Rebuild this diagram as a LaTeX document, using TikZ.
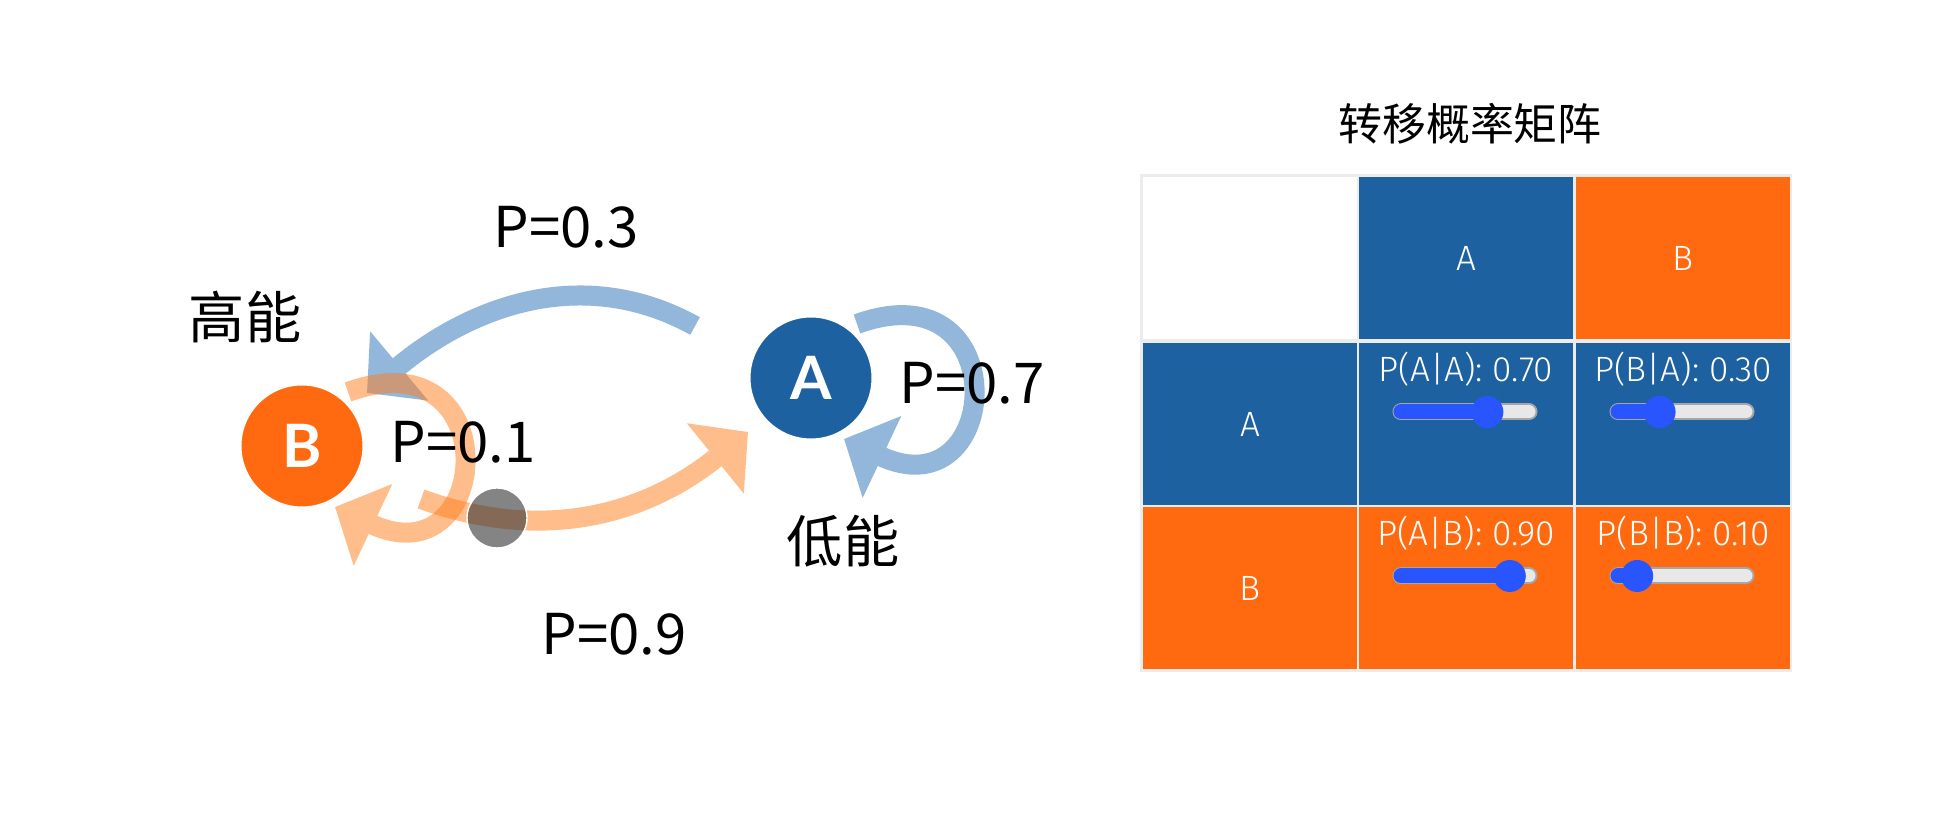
\documentclass[tikz,border=0pt]{standalone}
\usepackage{fontspec}
\setmainfont{Noto Sans CJK SC}
\newfontfamily\cellfont{Fira Sans Light}
\newfontfamily\statefont{Lato}
\usepackage{tikz}
\usetikzlibrary{calc,arrows.meta,positioning}
\definecolor{stateblue}{RGB}{29,97,160}
\definecolor{stateorange}{RGB}{255,106,16}
\definecolor{arrowblue}{RGB}{40,110,185}
\definecolor{arroworange}{RGB}{255,125,25}
\definecolor{knobblue}{RGB}{40,85,255}
\definecolor{gridgray}{RGB}{236,236,236}
\definecolor{trackgray}{RGB}{232,232,232}
\tikzset{
  state/.style={circle,minimum size=1.23cm,inner sep=0pt,draw=white,line width=0.6pt,
    text=white,font=\statefont\bfseries\fontsize{17}{17}\selectfont},
  flow/.style={line width=0.2cm,-{Triangle[width=0.88cm,length=0.42cm]}},
  lbl/.style={inner sep=0pt,font=\fontsize{16}{16}\selectfont},
  cell/.style={minimum width=2.13cm,minimum height=1.61cm,inner sep=0pt,
    text=white,font=\cellfont\fontsize{10}{10}\selectfont},
  ctext/.style={inner sep=0pt,text=white,font=\cellfont\fontsize{10}{10}\selectfont},
}
% slider drawn inside a probability cell: #1 cell, #2 value
\newcommand{\slider}[2]{%
  \draw[line width=0.17cm,line cap=round,black!35] ($(#1)+(-65,12)$) -- ($(#1)+(63,12)$);
  \draw[line width=0.13cm,line cap=round,trackgray] ($(#1)+(-65,12)$) -- ($(#1)+(63,12)$);
  \draw[line width=0.15cm,line cap=round,knobblue] ($(#1)+(-65,12)$) -- ($(#1)+({-57+112*#2},12)$);
  \fill[knobblue] ($(#1)+({-57+112*#2},12)$) circle [radius=16];}

\begin{document}
\begin{tikzpicture}[x=0.01cm,y=0.01cm]
  \useasboundingbox (0,0) rectangle (1948,822);
  \fill[white] (0,0) rectangle (1948,822);
  \coordinate (cB) at (302,376);
  \coordinate (cA) at (811,444);
  % transitions
  \begin{scope}[transparency group,opacity=0.5]
    \draw[flow,arrowblue] ($(cA)+(-116,52)$) to[out=151,in=40] ($(cB)+(65,53)$);
  \end{scope}
  \begin{scope}[transparency group,opacity=0.5]
    \draw[flow,arroworange] ($(cB)+(46,54)$) .. controls ($(cB)+(206,112)$) and ($(cB)+(192,-136)$) .. ($(cB)+(33,-61)$);
  \end{scope}
  \begin{scope}[transparency group,opacity=0.5]
    \draw[flow,arroworange] ($(cB)+(119,-53)$) to[out=-20,in=219] ($(cA)+(-63,-54)$);
  \end{scope}
  \begin{scope}[transparency group,opacity=0.5]
    \draw[flow,arrowblue] ($(cA)+(46,54)$) .. controls ($(cA)+(206,112)$) and ($(cA)+(192,-136)$) .. ($(cA)+(33,-61)$);
  \end{scope}
  \filldraw[fill=black!80,draw=white,fill opacity=0.6,line width=0.4pt] (497,304) circle [radius=30];
  % states
  \node[state,fill=stateorange] (B) at (cB) {B};
  \node[state,fill=stateblue] (A) at (cA) {A};
  \node[lbl] (p03) at (566,595) {P=0.3};
  \node[lbl] (p01) at (463,380) {P=0.1};
  \node[lbl] (p07) at (972,439) {P=0.7};
  \node[lbl] (p09) at (614,188) {P=0.9};
  \node[lbl] (hi) at (245,505) {高能};
  \node[lbl] (lo) at (843,281) {低能};
  % transition matrix
  \node[inner sep=0pt,font=\fontsize{12.5}{12.5}\selectfont] (title) at (1470,698) {转移概率矩阵};
  \fill[gridgray] (1140,150) rectangle (1792,648);
  \node[cell,fill=white] (corner) at (1250,564) {};
  \node[cell,fill=stateblue] (hA) at (1466,564) {A};
  \node[cell,fill=stateorange] (hB) at (1683,564) {B};
  \node[cell,fill=stateblue] (rA) at (1250,398) {A};
  \node[cell,fill=stateblue] (pAA) at (1466,398) {};
  \node[cell,fill=stateblue] (pBA) at (1683,398) {};
  \node[cell,fill=stateorange] (rB) at (1250,234) {B};
  \node[cell,fill=stateorange] (pAB) at (1466,234) {};
  \node[cell,fill=stateorange] (pBB) at (1683,234) {};
  \node[ctext] (tAA) at ($(pAA)+(0,55)$) {P(A|A): 0.70};
  \node[ctext] (tBA) at ($(pBA)+(0,55)$) {P(B|A): 0.30};
  \node[ctext] (tAB) at ($(pAB)+(0,55)$) {P(A|B): 0.90};
  \node[ctext] (tBB) at ($(pBB)+(0,55)$) {P(B|B): 0.10};
  \slider{pAA}{0.70}
  \slider{pBA}{0.30}
  \slider{pAB}{0.90}
  \slider{pBB}{0.10}
\end{tikzpicture}
\end{document}
